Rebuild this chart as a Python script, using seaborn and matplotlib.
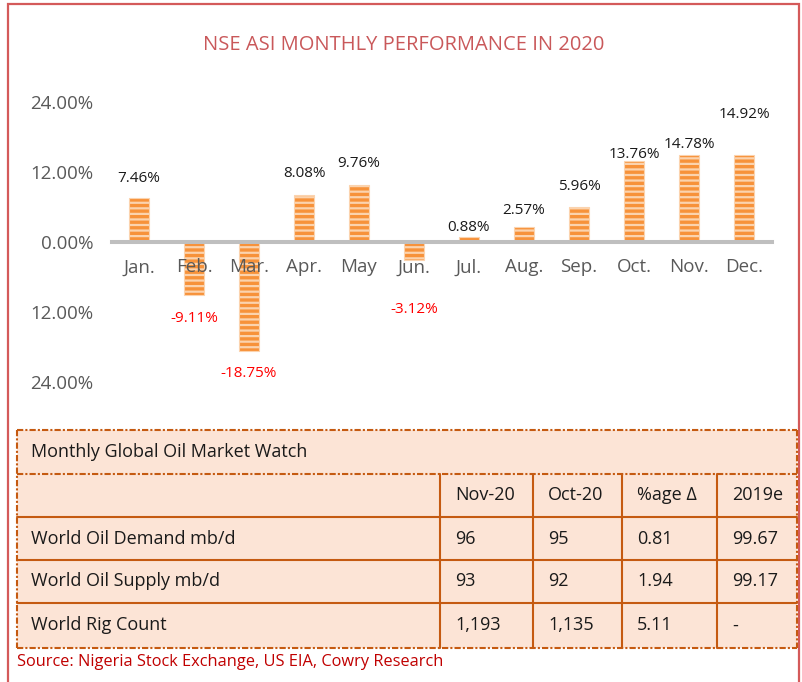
import matplotlib
matplotlib.use('Agg')
import matplotlib.pyplot as plt
import seaborn as sns
import pandas as pd
from matplotlib.patches import Rectangle
from matplotlib.ticker import FuncFormatter

# Chart data
months = ['Jan.', 'Feb.', 'Mar.', 'Apr.', 'May', 'Jun.', 'Jul.', 'Aug.', 'Sep.', 'Oct.', 'Nov.', 'Dec.']
returns = [7.46, -9.11, -18.75, 8.08, 9.76, -3.12, 0.88, 2.57, 5.96, 13.76, 14.78, 14.92]
y_ticks = [-24, -12, 0, 12, 24]
chart_title = 'NSE ASI MONTHLY PERFORMANCE IN 2020'

# Table data
table_title = 'Monthly Global Oil Market Watch'
table_columns = ['Nov-20', 'Oct-20', '%age Δ', '2019e']
table_rows = ['World Oil Demand mb/d', 'World Oil Supply mb/d', 'World Rig Count']
nov_20 = ['96', '93', '1,193']
oct_20 = ['95', '92', '1,135']
pct_change = ['0.81', '1.94', '5.11']
est_2019 = ['99.67', '99.17', '-']
source_note = 'Source: Nigeria Stock Exchange, US EIA, Cowry Research'

# label nudges in points (positive = above the bar end)
label_offsets = [14, -17, -16, 15, 15, -36, 6.5, 11.5, 15, 5, 8, 29]

sns.set_theme(style='white')
plt.rcParams['font.family'] = ['Open Sans', 'DejaVu Sans']

W, H = 802, 682
fig = plt.figure(figsize=(W / 100, H / 100), dpi=100)
fig.patch.set_facecolor('white')

# Bar chart
ax = fig.add_axes([111.5 / W, 1 - 393.4 / H, 660 / W, 303.4 / H])
df = pd.DataFrame({'month': months, 'change': returns})
plt.rcParams['hatch.linewidth'] = 1.6
sns.barplot(data=df, x='month', y='change', order=months, color='#F7923A',
            saturation=1, width=0.38, edgecolor='#FBD3AE', linewidth=0.8,
            hatch='---', ax=ax)
ax.set_xlim(-0.5, 11.5)
ax.set_ylim(-26, 26)
ax.set_yticks(y_ticks)
ax.yaxis.set_major_formatter(FuncFormatter(lambda v, p: f'{abs(v):.2f}%'))
ax.set_xlabel('')
ax.set_ylabel('')
ax.set_facecolor('none')
ax.set_axisbelow(False)
ax.xaxis.set_zorder(3)
for side in ['left', 'top', 'right']:
    ax.spines[side].set_visible(False)
ax.spines['bottom'].set_position(('data', 0))
ax.spines['bottom'].set_color('#BFBFBF')
ax.spines['bottom'].set_linewidth(2.9)
ax.tick_params(axis='x', length=0, pad=12, labelsize=13.5, labelcolor='#595959')
ax.tick_params(axis='y', length=0, pad=13, labelsize=13.5, labelcolor='#595959')

for i, (v, off) in enumerate(zip(returns, label_offsets)):
    ax.annotate(f'{v:.2f}%', xy=(i, v), xytext=(0, off), textcoords='offset points',
                ha='center', va='center', fontsize=11,
                color='#1A1A1A' if v >= 0 else '#FF0000')

# Overlay for frame, title and table (pixel coordinates)
lay = fig.add_axes([0, 0, 1, 1], zorder=-1)
lay.set_xlim(0, W)
lay.set_ylim(H, 0)
lay.axis('off')

frame = '#D45A5A'
lay.plot([8, 8, 799, 799], [H, 4, 4, H], color=frame, lw=1.6, solid_joinstyle='miter')

lay.text(403.5, 45, chart_title, ha='center', va='center', fontsize=14.5, color='#C9585A')

# Table
tl, tr = 16.7, 797
row_y = [430, 474, 517, 560, 603, 648]
col_x = [440, 533, 622, 717]
line_c = '#C55A11'
dashdot = (0, (3, 1, 1, 1))
lay.add_patch(Rectangle((tl, row_y[0]), tr - tl, row_y[-1] - row_y[0],
                        facecolor='#FCE4D6', edgecolor='none'))
for y in row_y[2:-1]:
    lay.plot([tl, tr], [y, y], color=line_c, lw=1.5)
for x in col_x:
    lay.plot([x, x], [row_y[1], row_y[-1]], color=line_c, lw=1.5)
for y in [row_y[0], row_y[1], row_y[-1]]:
    lay.plot([tl, tr], [y, y], color=line_c, lw=1.5, linestyle=dashdot)
for x in [tl, tr]:
    lay.plot([x, x], [row_y[0], row_y[-1]], color=line_c, lw=1.5, linestyle=dashdot)

txt = dict(fontsize=13, color='#1A1A1A', va='center')
lay.text(31, (row_y[0] + row_y[1]) / 2, table_title, **txt)
for j, col in enumerate(table_columns):
    lay.text(col_x[j] + 15, (row_y[1] + row_y[2]) / 2, col, **txt)
for i, name in enumerate(table_rows):
    yc = (row_y[i + 2] + row_y[i + 3]) / 2
    lay.text(31, yc, name, **txt)
    for j, val in enumerate([nov_20[i], oct_20[i], pct_change[i], est_2019[i]]):
        lay.text(col_x[j] + 15, yc, val, **txt)

lay.text(17, 662, source_note, fontsize=11.8, color='#C00000', va='center')

fig.savefig('out.png', dpi=100)
